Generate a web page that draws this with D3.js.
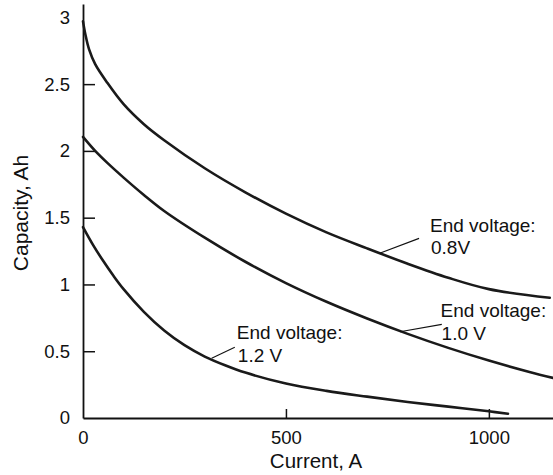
<!DOCTYPE html>
<html>
<head>
<meta charset="utf-8">
<script src="https://cdn.jsdelivr.net/npm/d3@7"></script>
<style>
  html, body { margin: 0; padding: 0; background: #fff; }
  svg { display: block; }
  text { font-family: "Liberation Sans", Arial, Helvetica, sans-serif; fill: #111; }
</style>
</head>
<body>
<svg id="chart" width="553" height="475"></svg>
<script>
// ---- data ----
const current08 = [0, 6, 15, 30, 60, 100, 150, 200, 300, 400, 500, 600, 700, 800, 900, 1000, 1150];
const capacity08 = [2.97, 2.87, 2.76, 2.65, 2.51, 2.35, 2.20, 2.08, 1.87, 1.69, 1.53, 1.39, 1.27, 1.155, 1.05, 0.965, 0.90];

const current10 = [0, 30, 60, 100, 150, 200, 300, 400, 500, 600, 700, 800, 900, 1000, 1100, 1158];
const capacity10 = [2.105, 2.00, 1.91, 1.80, 1.67, 1.55, 1.35, 1.17, 1.01, 0.87, 0.745, 0.63, 0.525, 0.43, 0.345, 0.30];

const current12 = [0, 25, 50, 75, 100, 150, 200, 250, 300, 350, 400, 500, 600, 700, 800, 900, 1000, 1047];
const capacity12 = [1.43, 1.295, 1.175, 1.065, 0.965, 0.795, 0.655, 0.545, 0.46, 0.395, 0.34, 0.258, 0.203, 0.16, 0.12, 0.085, 0.05, 0.032];

const xTickValues = [0, 500, 1000];
const yTickValues = [0, 0.5, 1, 1.5, 2, 2.5, 3];
const xTitle = "Current, A";
const yTitle = "Capacity, Ah";

const annotationLine1 = ["End voltage:", "End voltage:", "End voltage:"];
const annotationLine2 = ["0.8V", "1.0 V", "1.2 V"];
// leader start (on curve) and end, in data units
const leaderFrom = [[731, 1.233], [781, 0.646], [317, 0.448]];
const leaderTo = [[828, 1.345], [884, 0.701], [374, 0.529]];
// text anchor points in data units: [x, baseline line1, baseline line2]
const textAt = [[855, 1.394, 1.228], [881, 0.758, 0.584], [379, 0.591, 0.421]];

// ---- layout ----
const svg = d3.select("#chart");
const x = d3.scaleLinear().domain([0, 1158]).range([83, 553]);
const y = d3.scaleLinear().domain([0, 3.1]).range([418, 4]);

// y axis
const yAxis = d3.axisLeft(y).tickValues(yTickValues).tickSize(-12).tickSizeOuter(0).tickPadding(13)
  .tickFormat(d => String(d));
const gy = svg.append("g").attr("transform", `translate(${x(0)},0)`).call(yAxis);
gy.select(".domain").attr("stroke", "#111").attr("stroke-width", 1.8);
gy.selectAll(".tick line").attr("stroke", "#111").attr("stroke-width", 1.5)
  .attr("display", d => (d === 0 || d === 3) ? "none" : null);
gy.selectAll(".tick text").style("font-size", "18.5px").attr("fill", "#111");

// x axis
const xAxis = d3.axisBottom(x).tickValues(xTickValues).tickSize(-9).tickSizeOuter(0).tickPadding(13)
  .tickFormat(d => String(d));
const gx = svg.append("g").attr("transform", `translate(0,${y(0)})`).call(xAxis);
gx.select(".domain").attr("stroke", "#111").attr("stroke-width", 1.8);
gx.selectAll(".tick line").attr("stroke", "#111").attr("stroke-width", 1.5)
  .attr("display", d => d === 0 ? "none" : null);
gx.selectAll(".tick text").style("font-size", "18.5px").attr("fill", "#111");

// titles
svg.append("text").attr("x", 316).attr("y", 468).attr("text-anchor", "middle")
  .style("font-size", "20.5px").text(xTitle);
svg.append("text").attr("transform", "translate(28,213) rotate(-90)").attr("text-anchor", "middle")
  .style("font-size", "21px").text(yTitle);

// curves
const line = d3.line().x(d => x(d[0])).y(d => y(d[1])).curve(d3.curveCatmullRom.alpha(0.5));
const series = [
  d3.zip(current08, capacity08),
  d3.zip(current10, capacity10),
  d3.zip(current12, capacity12)
];
svg.append("g").selectAll("path").data(series).join("path")
  .attr("d", line).attr("fill", "none").attr("stroke", "#1a1a1a")
  .attr("stroke-width", 2.6).attr("stroke-linecap", "round");

// annotations
const ann = svg.append("g");
annotationLine1.forEach((t, i) => {
  ann.append("line")
    .attr("x1", x(leaderFrom[i][0])).attr("y1", y(leaderFrom[i][1]))
    .attr("x2", x(leaderTo[i][0])).attr("y2", y(leaderTo[i][1]))
    .attr("stroke", "#111").attr("stroke-width", 1.1);
  ann.append("text").attr("x", x(textAt[i][0])).attr("y", y(textAt[i][1]))
    .style("font-size", "19px").text(t);
  ann.append("text").attr("x", x(textAt[i][0]) + 1).attr("y", y(textAt[i][2]))
    .style("font-size", "19px").text(annotationLine2[i]);
});
</script>
</body>
</html>
